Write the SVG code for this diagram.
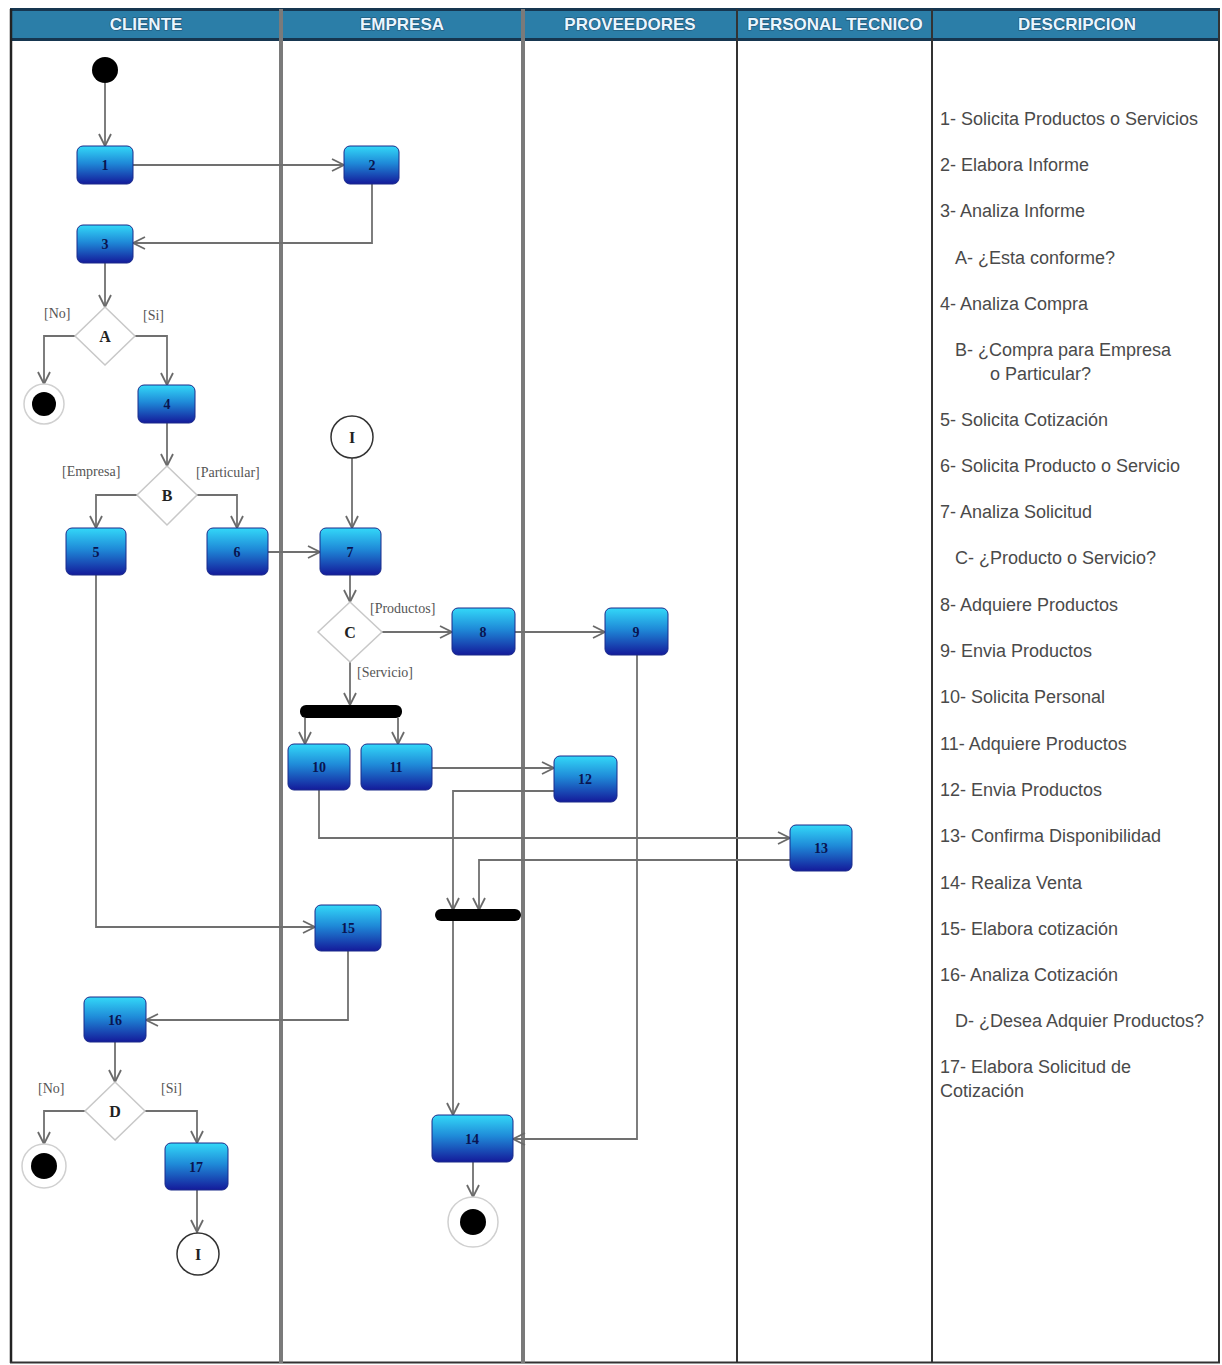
<svg xmlns="http://www.w3.org/2000/svg" width="1222" height="1365" viewBox="0 0 1222 1365">
  <defs>
    <linearGradient id="act" x1="0" y1="0" x2="0" y2="1">
      <stop offset="0" stop-color="#33d8f8"/>
      <stop offset="0.45" stop-color="#1f8ad8"/>
      <stop offset="1" stop-color="#141a9a"/>
    </linearGradient>
    <marker id="arr" markerUnits="userSpaceOnUse" markerWidth="16" markerHeight="16" refX="13" refY="7" orient="auto">
      <path d="M1,1 L13,7 L1,13" fill="none" stroke="#6a6a6a" stroke-width="1.8"/>
    </marker>
    <style>
      .hdr { font-family: "Liberation Sans", Arial, sans-serif; font-weight: bold; font-size: 17px; fill: #eaf6ff; stroke: #1b4e6e; stroke-width: 1.2px; paint-order: stroke; text-anchor: middle; }
      .act rect { fill: url(#act); stroke: #1a2a8a; stroke-width: 1; }
      .num { font-family: "Liberation Serif", "Times New Roman", serif; font-weight: bold; font-size: 14px; fill: #0a1450; text-anchor: middle; }
      .dec polygon { fill: #ffffff; stroke: #c8c8c8; stroke-width: 1.5; }
      .dlbl { font-family: "Liberation Serif", "Times New Roman", serif; font-weight: bold; font-size: 16px; fill: #222; text-anchor: middle; }
      .grd { font-family: "Liberation Serif", "Times New Roman", serif; font-size: 14px; fill: #555; }
      .desc { font-family: "Liberation Sans", Arial, sans-serif; font-size: 18px; fill: #4a4a4a; }
      .edge { fill: none; stroke: #707070; stroke-width: 1.8; marker-end: url(#arr); }
      .bar { fill: #000; }
    </style>
  </defs>

  <!-- background and swimlanes -->
  <rect x="0" y="0" width="1222" height="1365" fill="#ffffff"/>
  <g id="lanes">
    <rect x="10" y="9" width="1210" height="31" fill="#2b7ea8"/>
    <line x1="10" y1="9.5" x2="1220" y2="9.5" stroke="#163650" stroke-width="3"/>
    <line x1="10" y1="39.5" x2="1220" y2="39.5" stroke="#163650" stroke-width="3"/>
    <line x1="11" y1="9" x2="11" y2="1363" stroke="#222" stroke-width="2.5"/>
    <line x1="1219" y1="9" x2="1219" y2="1363" stroke="#333" stroke-width="2"/>
    <line x1="10" y1="1362.5" x2="1220" y2="1362.5" stroke="#333" stroke-width="2"/>
    <line x1="281" y1="9" x2="281" y2="1363" stroke="#7a7a7a" stroke-width="4"/>
    <line x1="523" y1="9" x2="523" y2="1363" stroke="#7a7a7a" stroke-width="4"/>
    <line x1="737" y1="9" x2="737" y2="1363" stroke="#333" stroke-width="2"/>
    <line x1="932" y1="9" x2="932" y2="1363" stroke="#333" stroke-width="2"/>
    <text class="hdr" x="146" y="30">CLIENTE</text>
    <text class="hdr" x="402" y="30">EMPRESA</text>
    <text class="hdr" x="630" y="30">PROVEEDORES</text>
    <text class="hdr" x="835" y="30">PERSONAL TECNICO</text>
    <text class="hdr" x="1077" y="30">DESCRIPCION</text>
  </g>

  <!-- connectors -->
  <g id="connectors">
    <path class="edge" d="M105,83 V146"/>
    <path class="edge" d="M133,165 H344"/>
    <path class="edge" d="M372,184 V243 H133"/>
    <path class="edge" d="M105,263 V307"/>
    <path class="edge" d="M75,336 H44 V384"/>
    <path class="edge" d="M135,336 H167 V385"/>
    <path class="edge" d="M167,423 V466"/>
    <path class="edge" d="M137,495 H96 V528"/>
    <path class="edge" d="M197,495 H237 V528"/>
    <path class="edge" d="M268,552 H320"/>
    <path class="edge" d="M352,458 V528"/>
    <path class="edge" d="M350,575 V602"/>
    <path class="edge" d="M382,632 H452"/>
    <path class="edge" d="M515,632 H605"/>
    <path class="edge" d="M350,662 V705"/>
    <path class="edge" d="M305,718 V744"/>
    <path class="edge" d="M398,718 V744"/>
    <path class="edge" d="M432,768 H554"/>
    <path class="edge" d="M554,791 H453 V910"/>
    <path class="edge" d="M319,790 V838 H790"/>
    <path class="edge" d="M790,860 H479 V910"/>
    <path class="edge" d="M96,575 V927 H315"/>
    <path class="edge" d="M348,951 V1020 H146"/>
    <path class="edge" d="M453,921 V1115"/>
    <path class="edge" d="M637,655 V1139 H513"/>
    <path class="edge" d="M115,1042 V1082"/>
    <path class="edge" d="M85,1111 H44 V1144"/>
    <path class="edge" d="M145,1111 H197 V1143"/>
    <path class="edge" d="M197,1190 V1232"/>
    <path class="edge" d="M473,1162 V1197"/>
  </g>

  <!-- initial and final nodes -->
  <g id="start"><circle cx="105" cy="70" r="13" fill="#000"/></g>
  <g id="endA"><circle cx="44" cy="404" r="20" fill="#fff" stroke="#d0d0d0" stroke-width="1.5"/><circle cx="44" cy="404" r="12" fill="#000"/></g>
  <g id="endD"><circle cx="44" cy="1166" r="22" fill="#fff" stroke="#d0d0d0" stroke-width="1.5"/><circle cx="44" cy="1166" r="13" fill="#000"/></g>
  <g id="end14"><circle cx="473" cy="1222" r="25" fill="#fff" stroke="#d0d0d0" stroke-width="1.5"/><circle cx="473" cy="1222" r="13" fill="#000"/></g>

  <!-- connector circles -->
  <g id="conn-in"><circle cx="352" cy="437" r="21" fill="#fff" stroke="#333" stroke-width="1.5"/><text class="dlbl" x="352" y="443">I</text></g>
  <g id="conn-out"><circle cx="198" cy="1254" r="21" fill="#fff" stroke="#333" stroke-width="1.5"/><text class="dlbl" x="198" y="1260">I</text></g>

  <!-- activities -->
  <g id="n1" class="act"><rect x="77" y="146" width="56" height="38" rx="6"/><text class="num" x="105" y="170">1</text></g>
  <g id="n2" class="act"><rect x="344" y="146" width="55" height="38" rx="6"/><text class="num" x="372" y="170">2</text></g>
  <g id="n3" class="act"><rect x="77" y="225" width="56" height="38" rx="6"/><text class="num" x="105" y="249">3</text></g>
  <g id="n4" class="act"><rect x="138" y="385" width="57" height="38" rx="6"/><text class="num" x="167" y="409">4</text></g>
  <g id="n5" class="act"><rect x="66" y="528" width="60" height="47" rx="6"/><text class="num" x="96" y="557">5</text></g>
  <g id="n6" class="act"><rect x="207" y="528" width="61" height="47" rx="6"/><text class="num" x="237" y="557">6</text></g>
  <g id="n7" class="act"><rect x="320" y="528" width="61" height="47" rx="6"/><text class="num" x="350" y="557">7</text></g>
  <g id="n8" class="act"><rect x="452" y="608" width="63" height="47" rx="6"/><text class="num" x="483" y="637">8</text></g>
  <g id="n9" class="act"><rect x="605" y="608" width="63" height="47" rx="6"/><text class="num" x="636" y="637">9</text></g>
  <g id="n10" class="act"><rect x="288" y="744" width="62" height="46" rx="6"/><text class="num" x="319" y="772">10</text></g>
  <g id="n11" class="act"><rect x="361" y="744" width="71" height="46" rx="6"/><text class="num" x="396" y="772">11</text></g>
  <g id="n12" class="act"><rect x="554" y="756" width="63" height="46" rx="6"/><text class="num" x="585" y="784">12</text></g>
  <g id="n13" class="act"><rect x="790" y="825" width="62" height="46" rx="6"/><text class="num" x="821" y="853">13</text></g>
  <g id="n14" class="act"><rect x="432" y="1115" width="81" height="47" rx="6"/><text class="num" x="472" y="1144">14</text></g>
  <g id="n15" class="act"><rect x="315" y="905" width="66" height="46" rx="6"/><text class="num" x="348" y="933">15</text></g>
  <g id="n16" class="act"><rect x="84" y="997" width="62" height="45" rx="6"/><text class="num" x="115" y="1025">16</text></g>
  <g id="n17" class="act"><rect x="165" y="1143" width="63" height="47" rx="6"/><text class="num" x="196" y="1172">17</text></g>

  <!-- decisions -->
  <g id="decA" class="dec"><polygon points="105,307 135,336 105,365 75,336"/><text class="dlbl" x="105" y="342">A</text></g>
  <g id="decB" class="dec"><polygon points="167,466 197,495 167,525 137,495"/><text class="dlbl" x="167" y="501">B</text></g>
  <g id="decC" class="dec"><polygon points="350,602 382,632 350,662 318,632"/><text class="dlbl" x="350" y="638">C</text></g>
  <g id="decD" class="dec"><polygon points="115,1082 145,1111 115,1140 85,1111"/><text class="dlbl" x="115" y="1117">D</text></g>

  <!-- guards -->
  <g id="guards">
    <text class="grd" x="44" y="318">[No]</text>
    <text class="grd" x="143" y="320">[Si]</text>
    <text class="grd" x="62" y="476">[Empresa]</text>
    <text class="grd" x="196" y="477">[Particular]</text>
    <text class="grd" x="370" y="613">[Productos]</text>
    <text class="grd" x="357" y="677">[Servicio]</text>
    <text class="grd" x="38" y="1093">[No]</text>
    <text class="grd" x="161" y="1093">[Si]</text>
  </g>

  <!-- fork / join bars -->
  <g id="fork"><rect class="bar" x="300" y="705" width="102" height="13" rx="6"/></g>
  <g id="join"><rect class="bar" x="435" y="909" width="86" height="12" rx="6"/></g>

  <!-- description column -->
  <g id="descripcion">
    <text class="desc" x="940" y="125">1- Solicita Productos o Servicios</text>
    <text class="desc" x="940" y="171">2- Elabora Informe</text>
    <text class="desc" x="940" y="217">3- Analiza Informe</text>
    <text class="desc" x="955" y="264">A- ¿Esta conforme?</text>
    <text class="desc" x="940" y="310">4- Analiza Compra</text>
    <text class="desc" x="955" y="356">B- ¿Compra para Empresa</text>
    <text class="desc" x="990" y="380">o Particular?</text>
    <text class="desc" x="940" y="426">5- Solicita Cotización</text>
    <text class="desc" x="940" y="472">6- Solicita Producto o Servicio</text>
    <text class="desc" x="940" y="518">7- Analiza Solicitud</text>
    <text class="desc" x="955" y="564">C- ¿Producto o Servicio?</text>
    <text class="desc" x="940" y="611">8- Adquiere Productos</text>
    <text class="desc" x="940" y="657">9- Envia Productos</text>
    <text class="desc" x="940" y="703">10- Solicita Personal</text>
    <text class="desc" x="940" y="750">11- Adquiere Productos</text>
    <text class="desc" x="940" y="796">12- Envia Productos</text>
    <text class="desc" x="940" y="842">13- Confirma Disponibilidad</text>
    <text class="desc" x="940" y="889">14- Realiza Venta</text>
    <text class="desc" x="940" y="935">15- Elabora cotización</text>
    <text class="desc" x="940" y="981">16- Analiza Cotización</text>
    <text class="desc" x="955" y="1027">D- ¿Desea Adquier Productos?</text>
    <text class="desc" x="940" y="1073">17- Elabora Solicitud de</text>
    <text class="desc" x="940" y="1097">Cotización</text>
  </g>
</svg>
